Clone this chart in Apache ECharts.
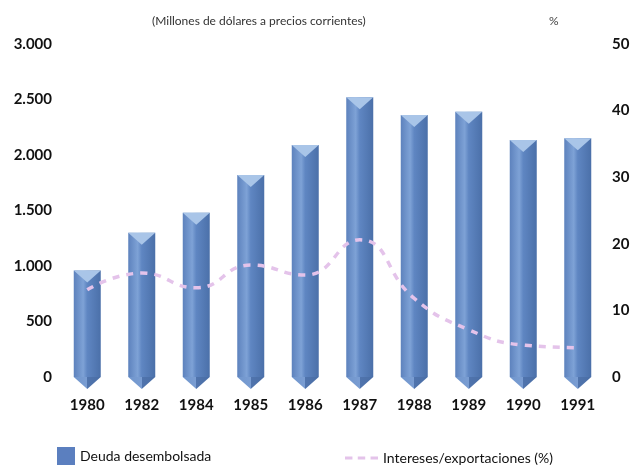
<!DOCTYPE html>
<html>
<head>
<meta charset="utf-8">
<script src="https://cdn.jsdelivr.net/npm/echarts@6/dist/echarts.min.js"></script>
<style>
html,body{margin:0;padding:0;background:#fff;}
#c{width:635px;height:468px;}
</style>
</head>
<body>
<div id="c"></div>
<script>
const years = ['1980','1982','1984','1985','1986','1987','1988','1989','1990','1991'];
const deuda = [960, 1300, 1480, 1820, 2090, 2520, 2360, 2390, 2135, 2150];
const intereses = [13.1, 15.6, 13.4, 16.8, 15.3, 20.6, 11.8, 7.1, 4.8, 4.4];
const leftTicks = [0, 3000, 500];
const rightTicks = [0, 50, 10];
const FONT = 'Lato';

const barGrad = new echarts.graphic.LinearGradient(0,0,1,0,[
  {offset:0, color:'#5d82bd'},
  {offset:0.35, color:'#7ea2d6'},
  {offset:0.5, color:'#5f86c2'},
  {offset:1, color:'#4b70a9'}
]);
const tipGrad = new echarts.graphic.LinearGradient(0,0,1,0,[
  {offset:0, color:'#7096cd'},
  {offset:0.5, color:'#7a9dd2'},
  {offset:0.5, color:'#5074ad'},
  {offset:1, color:'#4a6ea6'}
]);

const chart = echarts.init(document.getElementById('c'), null, {renderer:'canvas'});
chart.setOption({
  backgroundColor:'#ffffff',
  animation:false,
  textStyle:{fontFamily:FONT},
  title:[
    {text:'(Millones de dólares a precios corrientes)', left:147, top:10,
     textStyle:{fontFamily:FONT, fontSize:12, fontWeight:'normal', color:'#333'}},
    {text:'%', left:544, top:10,
     textStyle:{fontFamily:FONT, fontSize:12, fontWeight:'normal', color:'#444'}}
  ],
  grid:{left:60, right:30, top:44, bottom:91},
  legend:[
    {data:[{name:'Deuda desembolsada', icon:'rect', itemStyle:{color:'#5b7fbf'}}],
     left:52, top:442, itemWidth:18, itemHeight:18, itemGap:8,
     textStyle:{fontFamily:FONT, fontSize:14, color:'#111'}},
    {data:[{name:'Intereses/exportaciones (%)',
            icon:'path://M0,0 h7 v3 h-7 Z M12,0 h7 v3 h-7 Z M24,0 h7 v3 h-7 Z',
            itemStyle:{color:'#e4c3ea'}}],
     left:340, top:446, itemWidth:33, itemHeight:4, itemGap:12,
     textStyle:{fontFamily:FONT, fontSize:14, color:'#111'}}
  ],
  xAxis:{
    type:'category', data:years,
    axisLine:{show:false}, axisTick:{show:false},
    axisLabel:{margin:21, fontFamily:FONT, fontSize:15, fontWeight:'bold', color:'#111'}
  },
  yAxis:[
    {type:'value', min:leftTicks[0], max:leftTicks[1], interval:leftTicks[2],
     axisLine:{show:false}, axisTick:{show:false}, splitLine:{show:false},
     axisLabel:{margin:8, fontFamily:FONT, fontSize:15, fontWeight:'bold', color:'#111',
       formatter:v=> v>=1000 ? Math.floor(v/1000)+'.'+String(v%1000).padStart(3,'0') : String(v)}},
    {type:'value', min:rightTicks[0], max:rightTicks[1], interval:rightTicks[2], position:'right',
     axisLine:{show:false}, axisTick:{show:false}, splitLine:{show:false},
     axisLabel:{margin:7, fontFamily:FONT, fontSize:15, fontWeight:'bold', color:'#111'}}
  ],
  series:[
    {name:'Deuda desembolsada', type:'bar', data:deuda, barWidth:27, z:2,
     itemStyle:{color:barGrad}},
    {name:'top', type:'pictorialBar', data:deuda, symbol:'path://M0,0 L10,0 L5,6 Z',
     symbolSize:[27,12], symbolPosition:'end', z:3, silent:true,
     itemStyle:{color:'#a9c5e8'}},
    {name:'tip', type:'pictorialBar', data:deuda, symbol:'path://M0,0 L10,0 L5,5 Z',
     symbolSize:[27,12], symbolPosition:'start', symbolOffset:[0,'100%'], z:3, silent:true,
     itemStyle:{color:tipGrad}},
    {name:'Intereses/exportaciones (%)', type:'line', yAxisIndex:1, data:intereses,
     smooth:true, symbol:'none', z:5,
     itemStyle:{color:'#e4c3ea'},
     lineStyle:{color:'#e4c3ea', width:3.5, type:[7,7]}}
  ]
});
</script>
</body>
</html>
